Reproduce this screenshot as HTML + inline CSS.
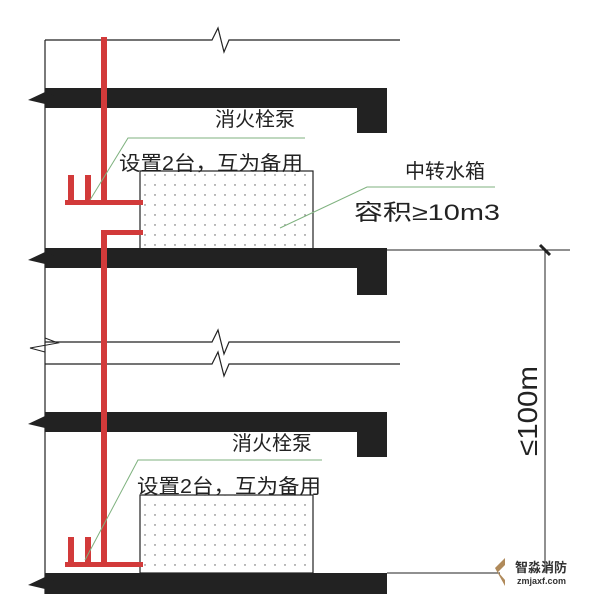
<!DOCTYPE html>
<html><head><meta charset="utf-8"><style>
html,body{margin:0;padding:0;background:#fff}
svg{display:block}
text{font-family:"Liberation Sans","Noto Sans CJK SC",sans-serif;fill:#222}
</style></head><body>
<svg width="604" height="594" viewBox="0 0 604 594" xmlns="http://www.w3.org/2000/svg">
<defs>
<pattern id="dots" width="10" height="10" patternUnits="userSpaceOnUse">
<circle cx="5" cy="5" r="0.7" fill="#555"/>
</pattern>
</defs>
<line x1="45" y1="40" x2="45" y2="594" stroke="#222" stroke-width="1.2"/>
<polyline points="45,40 212,40 218,28 224,52 229,40 400,40" fill="none" stroke="#222" stroke-width="1.2"/>
<polyline points="45,342 212,342 218,330 224,354 229,342 400,342" fill="none" stroke="#222" stroke-width="1.2"/>
<polyline points="45,364 212,364 218,352 224,376 229,364 400,364" fill="none" stroke="#222" stroke-width="1.2"/>
<polyline points="45,338 58,343 30,348 45,352" fill="none" stroke="#222" stroke-width="1"/>
<g fill="#222">
<path d="M45,88 H387 V133 H357 V108 H45 Z"/>
<path d="M28,100 L45,92 L55,96 L45,104 Z"/>
<path d="M45,248 H387 V295 H357 V268 H45 Z"/>
<path d="M28,260 L45,252 L55,256 L45,264 Z"/>
<path d="M45,412 H387 V457 H357 V432 H45 Z"/>
<path d="M28,424 L45,416 L55,420 L45,428 Z"/>
<path d="M45,573 H387 V594 H45 Z"/>
<path d="M28,585 L45,577 L55,581 L45,589 Z"/>
</g>
<rect x="140" y="171" width="173" height="78" fill="url(#dots)" stroke="#222" stroke-width="1.2"/>
<rect x="140" y="495" width="173" height="78" fill="url(#dots)" stroke="#222" stroke-width="1.2"/>
<g fill="#d23a3a">
<rect x="101" y="37" width="6" height="167"/>
<rect x="65" y="200" width="78" height="5"/>
<rect x="68" y="175" width="6" height="27"/>
<rect x="85" y="175" width="6" height="27"/>
<rect x="101" y="230" width="42" height="5"/>
<rect x="101" y="230" width="6" height="337"/>
<rect x="65" y="562" width="78" height="5"/>
<rect x="68" y="537" width="6" height="27"/>
<rect x="85" y="537" width="6" height="27"/>
</g>
<g fill="none" stroke="#7fb27f" stroke-width="1">
<polyline points="90,200 128,138 305,138"/>
<polyline points="280,228 367,187 495,187"/>
<polyline points="85,560 138,460 322,460"/>
</g>
<line x1="387" y1="250" x2="570" y2="250" stroke="#222" stroke-width="1"/>
<line x1="387" y1="573" x2="500" y2="573" stroke="#222" stroke-width="1"/>
<line x1="545" y1="250" x2="545" y2="573" stroke="#222" stroke-width="1"/>
<line x1="540" y1="245" x2="550" y2="255" stroke="#222" stroke-width="3"/>
<text x="215" y="126" font-size="20">消火栓泵</text>
<text x="119" y="170" font-size="20" textLength="184" lengthAdjust="spacingAndGlyphs">设置2台，互为备用</text>
<text x="405" y="178" font-size="20">中转水箱</text>
<text x="354" y="220" font-size="22" textLength="146" lengthAdjust="spacingAndGlyphs">容积≥10m3</text>
<text x="232" y="450" font-size="20">消火栓泵</text>
<text x="137" y="493" font-size="20" textLength="184" lengthAdjust="spacingAndGlyphs">设置2台，互为备用</text>
<text transform="translate(537,456) rotate(-90)" font-size="28" textLength="90" lengthAdjust="spacingAndGlyphs">≤100m</text>
<path d="M495,568 L505,558 L505,565 L498,572 L505,580 L505,586 Z" fill="#b08a5a"/>
<text x="515" y="572" font-size="13" font-weight="bold" style="fill:#333">智淼消防</text>
<text x="517" y="584" font-size="9" font-weight="bold" style="fill:#333">zmjaxf.com</text>
</svg>
</body></html>
